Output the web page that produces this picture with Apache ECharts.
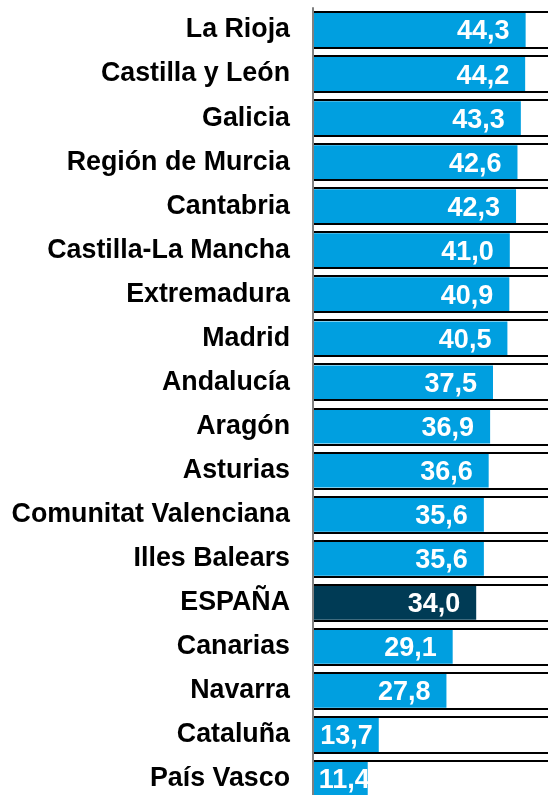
<!DOCTYPE html>
<html>
<head>
<meta charset="utf-8">
<script src="https://cdn.jsdelivr.net/npm/echarts@6/dist/echarts.min.js"></script>
<style>
html,body{margin:0;padding:0;background:#fff;}
#chart{width:548px;height:795px;}
</style>
</head>
<body>
<div id="chart"></div>
<script>
const categories = ['La Rioja','Castilla y León','Galicia','Región de Murcia','Cantabria','Castilla-La Mancha','Extremadura','Madrid','Andalucía','Aragón','Asturias','Comunitat Valenciana','Illes Balears','ESPAÑA','Canarias','Navarra','Cataluña','País Vasco'];
const values = [44.3,44.2,43.3,42.6,42.3,41.0,40.9,40.5,37.5,36.9,36.6,35.6,35.6,34.0,29.1,27.8,13.7,11.4];
const highlightCategory = 'ESPAÑA';

const BLUE = '#009FE0';
const DARK = '#003B55';
const FONT = '"Liberation Sans", Arial, sans-serif';
const labelDistance = {'Cataluña': 6, 'País Vasco': -2};

const chart = echarts.init(document.getElementById('chart'), null, {renderer: 'canvas'});

const barData = values.map((v, i) => {
  const item = {
    value: v,
    itemStyle: {color: categories[i] === highlightCategory ? DARK : BLUE}
  };
  if (labelDistance[categories[i]] !== undefined) {
    item.label = {distance: labelDistance[categories[i]]};
  }
  return item;
});

chart.setOption({
  animation: false,
  backgroundColor: '#fff',
  grid: {left: 313, top: 8, right: -5, bottom: -6, containLabel: false, outerBoundsMode: 'none'},
  xAxis: {
    type: 'value', min: 0, max: 50, show: false,
    splitLine: {show: false}
  },
  yAxis: {
    type: 'category',
    data: categories,
    inverse: true,
    z: 10,
    axisLine: {show: true, lineStyle: {color: '#808080', width: 2}},
    axisTick: {show: false},
    axisLabel: {
      margin: 23,
      color: '#000',
      fontFamily: FONT,
      fontWeight: 'bold',
      fontSize: 26.8
    }
  },
  series: [
    {
      type: 'bar',
      data: barData,
      barWidth: 34,
      label: {
        show: true,
        position: 'insideRight',
        distance: 16,
        offset: [0, 2],
        color: '#fff',
        fontFamily: FONT,
        fontWeight: 'bold',
        fontSize: 27,
        formatter: p => p.value.toFixed(1).replace('.', ',')
      }
    },
    {
      type: 'custom',
      silent: true,
      z: 3,
      data: categories.map((c, i) => [0, i]),
      encode: {x: 0, y: 1},
      renderItem: function (params, api) {
        const p = api.coord([0, api.value(1)]);
        const cs = params.coordSys;
        const x0 = p[0];
        const w = cs.x + cs.width - x0;
        const half = 17;
        return {
          type: 'group',
          children: [
            {type: 'rect', shape: {x: x0, y: Math.round(p[1] - half - 2), width: w, height: 2}, style: {fill: '#000'}},
            {type: 'rect', shape: {x: x0, y: Math.round(p[1] + half), width: w, height: 2}, style: {fill: '#000'}}
          ]
        };
      }
    }
  ]
});
</script>
</body>
</html>
